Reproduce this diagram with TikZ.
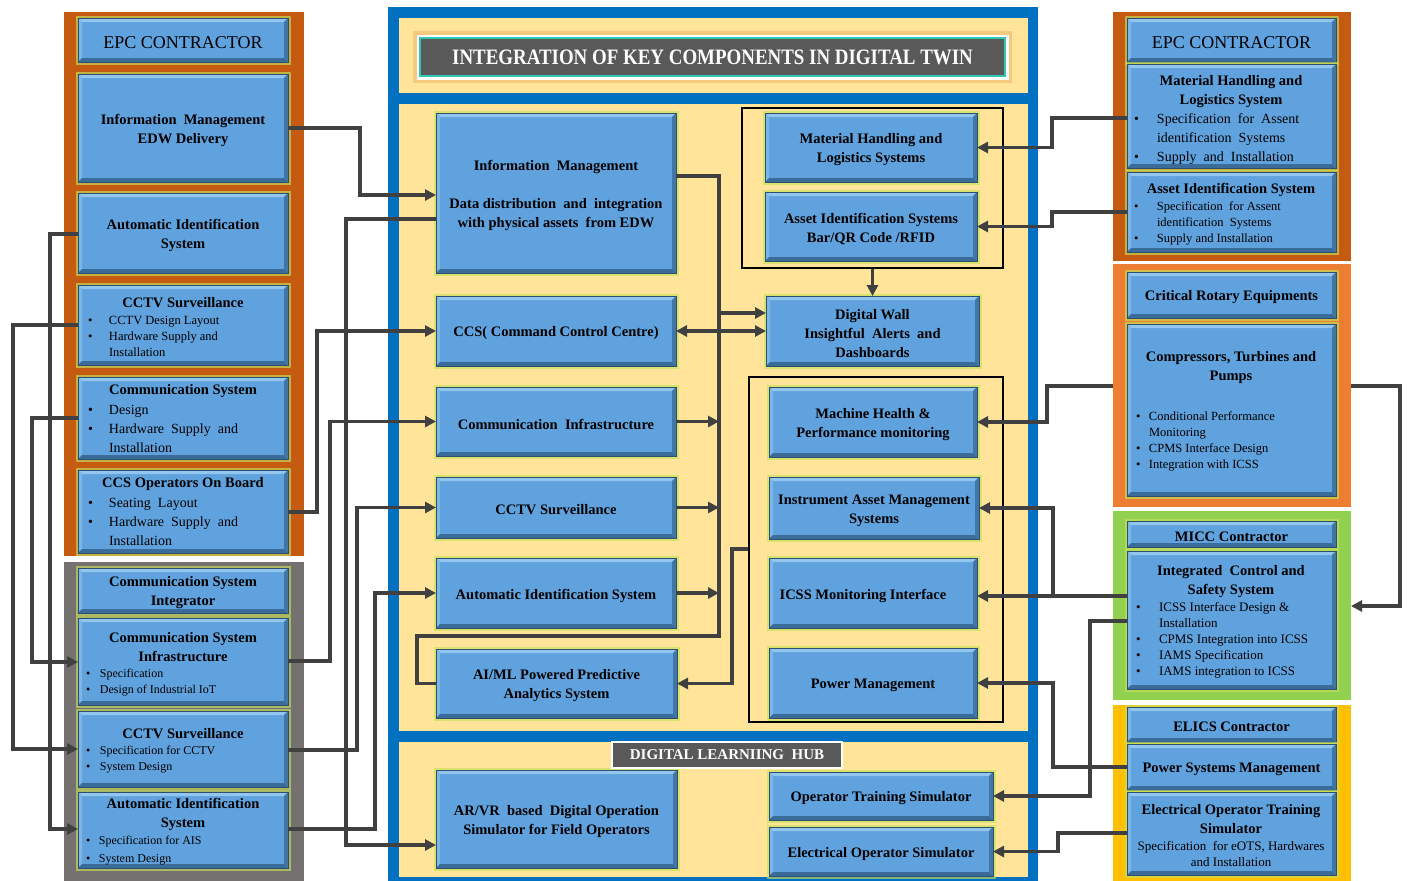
\documentclass[tikz,border=0pt]{standalone}
\usepackage{fontspec}
\setmainfont{Liberation Serif}
\newfontfamily\titlefont[FakeStretch=0.86]{Liberation Serif}
\usetikzlibrary{arrows.meta}

\definecolor{boxblue}{HTML}{5FA2DD}
\definecolor{boxlight}{HTML}{93C6EF}
\definecolor{boxdark}{HTML}{3B6B98}
\definecolor{boxedge}{HTML}{2C4F72}
\definecolor{glowc}{HTML}{C6E05A}
\definecolor{cblue}{HTML}{0070C0}
\definecolor{cyel}{HTML}{FFE499}
\definecolor{odark}{HTML}{C55A11}
\definecolor{oran}{HTML}{ED7D31}
\definecolor{grnp}{HTML}{92D050}
\definecolor{goldp}{HTML}{FFC000}
\definecolor{gpanel}{HTML}{767171}
\definecolor{wire}{HTML}{404040}
\definecolor{tbar}{HTML}{595959}
\definecolor{tealc}{HTML}{2EC7B5}
\definecolor{glowo}{HTML}{E39A4B}

\newcommand\fHB{\fontsize{14.5}{19}\selectfont\bfseries}
\newcommand\fLS{\fontsize{12.5}{16}\selectfont}
\newcommand\fLM{\fontsize{14}{19}\selectfont}
\newcommand\fEPC{\fontsize{18}{22}\selectfont\mdseries}
\newcommand\BL[2]{\begin{tabular}{@{}p{#1}@{}l@{}}#2\end{tabular}}

% box: [opts]{x1}{y1}{x2}{y2}{name}{text}; the text is a node named <name>t
\newcommand\BX[7][]{\node[bx,minimum width={(#4-#2)*1pt},minimum height={(#5-#3)*1pt}] (#6) at ({(#2+#4)/2},{(#3+#5)/2}) {};
  \node[txt,#1] (#6t) at ([yshift=-2.5pt]#6.center) {#7};}
% panel: {colour}{x1}{y1}{x2}{y2}{name}
\newcommand\PN[6]{\node[panel,fill=#1,minimum width={(#4-#2)*1pt},minimum height={(#5-#3)*1pt}] (#6) at ({(#2+#4)/2},{(#3+#5)/2}) {};}

\tikzset{
 panel/.style={rectangle, inner sep=0pt, outer sep=0pt, draw=none},
 bx/.style={rectangle, inner sep=0pt, outer sep=0pt, fill=boxblue, draw=boxedge, line width=0.6pt,
   preaction={draw=glowc, line width=5pt, opacity=0.65},
   path picture={
     \fill[boxlight] (path picture bounding box.north west) -- (path picture bounding box.north east)
        -- ([shift={(-4pt,-4pt)}]path picture bounding box.north east) -- ([shift={(4pt,-4pt)}]path picture bounding box.north west) -- cycle;
     \fill[boxlight!55!boxblue] (path picture bounding box.north west) -- (path picture bounding box.south west)
        -- ([shift={(4pt,4pt)}]path picture bounding box.south west) -- ([shift={(4pt,-4pt)}]path picture bounding box.north west) -- cycle;
     \fill[boxdark] (path picture bounding box.south west) -- (path picture bounding box.south east)
        -- ([shift={(-4pt,4pt)}]path picture bounding box.south east) -- ([shift={(4pt,4pt)}]path picture bounding box.south west) -- cycle;
     \fill[boxdark!80!boxblue] (path picture bounding box.north east) -- (path picture bounding box.south east)
        -- ([shift={(-4pt,4pt)}]path picture bounding box.south east) -- ([shift={(-4pt,-4pt)}]path picture bounding box.north east) -- cycle;
   }},
 txt/.style={inner sep=0pt, outer sep=0pt, align=center, font=\fHB},
 lst/.style={inner sep=0pt, outer sep=0pt, anchor=north west},
 conn/.style={draw=wire, line width=3.4pt},
 arr/.style={conn, -{Triangle[length=11pt,width=11pt]}},
 darr/.style={conn, {Triangle[length=11pt,width=11pt]}-{Triangle[length=11pt,width=11pt]}},
 blk/.style={draw=black, line width=2pt}
}

\begin{document}
\begin{tikzpicture}[x=1pt,y=-1pt]
\useasboundingbox (0,0) rectangle (1409,881);
\fill[white] (0,0) rectangle (1409,881);

% ---------- panels ----------
\PN{odark}{64}{12}{304}{556}{PL1}
\PN{gpanel}{64}{562}{304}{881}{PL2}
\PN{cblue}{388}{7}{1038}{881}{PC}
\PN{cyel}{399}{18}{1028}{93}{PCT}
\PN{cyel}{399}{104}{1028}{731}{PCM}
\PN{cyel}{399}{742}{1028}{877}{PCB}
\PN{odark}{1113}{12}{1351}{261}{PR1}
\PN{oran}{1113}{264}{1351}{507}{PR2}
\PN{grnp}{1113}{511}{1351}{700}{PR3}
\PN{goldp}{1113}{705}{1351}{881}{PR4}

% ---------- title ----------
\node[rectangle, inner sep=0pt, fill=tbar, draw=tealc, line width=2.5pt,
      preaction={draw=glowo, line width=14pt, opacity=0.35},
      preaction={draw=white, line width=7pt},
      minimum width=585pt, minimum height=38pt, text=white,
      font=\titlefont\fontsize{22}{26}\selectfont\bfseries] (T) at (712.5,57)
      {INTEGRATION OF KEY COMPONENTS IN DIGITAL TWIN};

% ---------- left column ----------
\BX[font=\fEPC]{78}{18}{288}{62}{L0}{EPC CONTRACTOR}
\BX{78}{74}{288}{182}{L1}{Information\ \ Management\\EDW Delivery}
\BX{78}{193}{288}{273}{L2}{Automatic Identification\\System}
\BX{78}{285}{288}{365}{L3}{}
\BX{78}{377}{288}{459}{L4}{}
\BX{78}{470}{288}{553}{L5}{}
\BX{78}{568}{288}{613}{L6}{Communication System\\Integrator}
\BX{78}{618}{288}{705}{L7}{}
\BX{78}{711}{288}{787}{L8}{}
\BX{78}{792}{288}{868}{L9}{}

\node[txt] (L3h) at (183,303) {CCTV Surveillance};
\node[lst, font=\fLS] (L3l) at (88,313) {\BL{21pt}{\textbullet & CCTV Design Layout\\ \textbullet & Hardware Supply and\\ & Installation}};
\node[txt] (L4h) at (183,391) {Communication System};
\node[lst, font=\fLM] (L4l) at (88,401) {\BL{21pt}{\textbullet & Design\\ \textbullet & Hardware\ \ Supply\ \ and\\ & Installation}};
\node[txt] (L5h) at (183,484) {CCS Operators On Board};
\node[lst, font=\fLM] (L5l) at (88,494) {\BL{21pt}{\textbullet & Seating\ \ Layout\\ \textbullet & Hardware\ \ Supply\ \ and\\ & Installation}};
\node[txt] (L7h) at (183,647.5) {Communication System\\Infrastructure};
\node[lst, font=\fontsize{12}{16}\selectfont] (L7l) at (86,666) {\BL{14pt}{\textbullet & Specification\\ \textbullet & Design of Industrial IoT}};
\node[txt] (L8h) at (183,734) {CCTV Surveillance};
\node[lst, font=\fontsize{12}{16}\selectfont] (L8l) at (86,743) {\BL{14pt}{\textbullet & Specification for CCTV\\ \textbullet & System Design}};
\node[txt] (L9h) at (183,814) {Automatic Identification\\System};
\node[lst, font=\fontsize{12}{18}\selectfont] (L9l) at (86,832) {\BL{13pt}{\textbullet & Specification for AIS\\ \textbullet & System Design}};

% ---------- centre ----------
\BX{436}{113}{676}{273}{C1}{Information\ \ Management\\[19pt]Data distribution\ \ and\ \ integration\\with physical assets\ \ from EDW}
\BX{436}{296}{676}{366}{C2}{CCS( Command Control Centre)}
\BX{436}{387}{676}{456}{C3}{Communication\ \ Infrastructure}
\BX{436}{477}{676}{538}{C4}{CCTV Surveillance}
\BX{436}{558}{676}{628}{C5}{Automatic Identification System}
\BX{436}{649}{677}{718}{C6}{AI/ML Powered Predictive\\Analytics System}
\BX{436}{770}{677}{868}{C7}{AR/VR\ \ based\ \ Digital Operation\\Simulator for Field Operators}

\node[rectangle, blk, inner sep=0pt, minimum width=261pt, minimum height=160pt] (BB1) at (872.5,188) {};
\BX{765}{113}{977}{182}{R1}{Material Handling and\\Logistics Systems}
\BX{765}{192}{977}{261}{R2}{Asset Identification Systems\\Bar/QR Code /RFID}
\BX{766}{296}{979}{366}{DW}{Digital Wall\\Insightful\ \ Alerts\ \ and\\Dashboards}
\node[rectangle, blk, inner sep=0pt, minimum width=254pt, minimum height=345pt] (BB2) at (876,549.5) {};
\BX{769}{387}{977}{457}{MH}{Machine Health \&\\Performance monitoring}
\BX{769}{477}{979}{539}{IA}{Instrument Asset Management\\Systems}
\BX{769}{558}{977}{628}{IM}{\hspace*{-20pt}ICSS Monitoring Interface}
\BX{769}{648}{977}{718}{PM}{Power Management}

\node[rectangle, inner sep=0pt, fill=tbar, draw=white, line width=2pt, minimum width=230pt, minimum height=26pt,
      text=white, font=\fontsize{15}{18}\selectfont\bfseries] (DLH) at (727,755) {DIGITAL LEARNIING\ \ HUB};
\BX{769}{772}{993}{820}{OTS}{Operator Training Simulator}
\BX{769}{827}{993}{876}{EOS}{Electrical Operator Simulator}

% ---------- right column ----------
\BX[font=\fEPC]{1127}{18}{1336}{62}{R0}{EPC CONTRACTOR}
\BX{1127}{64}{1336}{168}{RA}{}
\BX{1127}{172}{1336}{252}{RB}{}
\BX{1127}{272}{1336}{318}{RC}{Critical Rotary Equipments}
\BX{1127}{324}{1336}{496}{RD}{}
\BX{1127}{521}{1336}{547}{RE}{MICC Contractor}
\BX{1127}{551}{1336}{689}{RF}{}
\BX{1127}{707}{1336}{742}{RG}{ELICS Contractor}
\BX{1127}{744}{1336}{790}{RH}{Power Systems Management}
\BX{1127}{792}{1336}{875}{RI}{}

\node[txt] (RAh) at (1231,91.5) {Material Handling and\\Logistics System};
\node[lst, font=\fLM] (RAl) at (1134,110) {\BL{23pt}{\textbullet & Specification\ \ for\ \ Assent\\ & identification\ \ Systems\\ \textbullet & Supply\ \ and\ \ Installation}};
\node[txt] (RBh) at (1231,190) {Asset Identification System};
\node[lst, font=\fLS] (RBl) at (1134,199) {\BL{23pt}{\textbullet & Specification\ \ for Assent\\ & identification\ \ Systems\\ \textbullet & Supply and Installation}};
\node[txt] (RDh) at (1231,367.5) {Compressors, Turbines and\\Pumps};
\node[lst, font=\fLS] (RDl) at (1136,409) {\BL{13pt}{\textbullet & Conditional Performance\\ & Monitoring\\ \textbullet & CPMS Interface Design\\ \textbullet & Integration with ICSS}};
\node[txt] (RFh) at (1231,581.5) {Integrated\ \ Control and\\Safety System};
\node[lst, font=\fontsize{13}{16}\selectfont] (RFl) at (1136,600) {\BL{23pt}{\textbullet & ICSS Interface Design \&\\ & Installation\\ \textbullet & CPMS Integration into ICSS\\ \textbullet & IAMS Specification\\ \textbullet & IAMS integration to ICSS}};
\node[txt] (RIh) at (1231,819.5) {Electrical Operator Training\\Simulator};
\node[txt, font=\fontsize{13}{16}\selectfont] (RIs) at (1231,854) {Specification\ \ for eOTS, Hardwares\\and Installation};

% ---------- connectors: left ----------
\draw[arr] (L1.east) -- (360,128) -- (360,195) -- (C1.west |- 0,195);
\draw[arr] (C1.west |- 0,219) -- (346,219) -- (346,845) -- (C7.west |- 0,845);
\draw[arr] (L5.east |- 0,512) -- (317,512) -- (317,331) -- (C2.west);
\draw[arr] (L7.east |- 0,661) -- (330,661) -- (330,421.5) -- (C3.west);
\draw[arr] (L8.east |- 0,750) -- (357,750) -- (357,507.5) -- (C4.west);
\draw[arr] (L9.east |- 0,829) -- (375,829) -- (375,593) -- (C5.west);
\draw[arr] (L2.west |- 0,234) -- (50,234) -- (50,829) -- (L9.west |- 0,829);
\draw[arr] (L3.west |- 0,325) -- (13,325) -- (13,749) -- (L8.west);
\draw[arr] (L4.west |- 0,418) -- (32,418) -- (32,662) -- (L7.west |- 0,662);

% ---------- connectors: centre ----------
\draw[arr] (C1.east |- 0,176) -- (719,176) -- (719,313) -- (DW.west |- 0,313);
\draw[arr] (BB1.south) -- (DW.north);
\draw[darr] (C2.east) -- (DW.west);
\draw[conn] (719,313) -- (719,636) -- (417,636) -- (417,683.5) -- (C6.west);
\draw[arr] (C3.east) -- (C3.east -| 719,0);
\draw[arr] (C4.east) -- (C4.east -| 719,0);
\draw[arr] (C5.east) -- (C5.east -| 719,0);
\draw[arr] (BB2.west |- 0,549) -- (732,549) -- (732,683.5) -- (C6.east);

% ---------- connectors: right ----------
\draw[arr] (RA.west |- 0,118) -- (1052,118) -- (1052,147.5) -- (R1.east);
\draw[arr] (RB.west |- 0,212) -- (1052,212) -- (1052,226.5) -- (R2.east);
\draw[arr] (PR2.west |- 0,386) -- (1047,386) -- (1047,422) -- (MH.east);
\draw[arr] (PR2.east |- 0,386) -- (1400,386) -- (1400,606) -- (PR3.east |- 0,606);
\draw[arr] (RF.west |- 0,596) -- (IM.east |- 0,596);
\draw[arr] (1053,596) -- (1053,508) -- (IA.east);
\draw[arr] (RF.west |- 0,621) -- (1090,621) -- (1090,796) -- (OTS.east);
\draw[arr] (RH.west |- 0,767) -- (1053,767) -- (1053,683) -- (PM.east);
\draw[arr] (RI.west |- 0,833) -- (1058,833) -- (1058,851.5) -- (EOS.east);
\end{tikzpicture}
\end{document}
